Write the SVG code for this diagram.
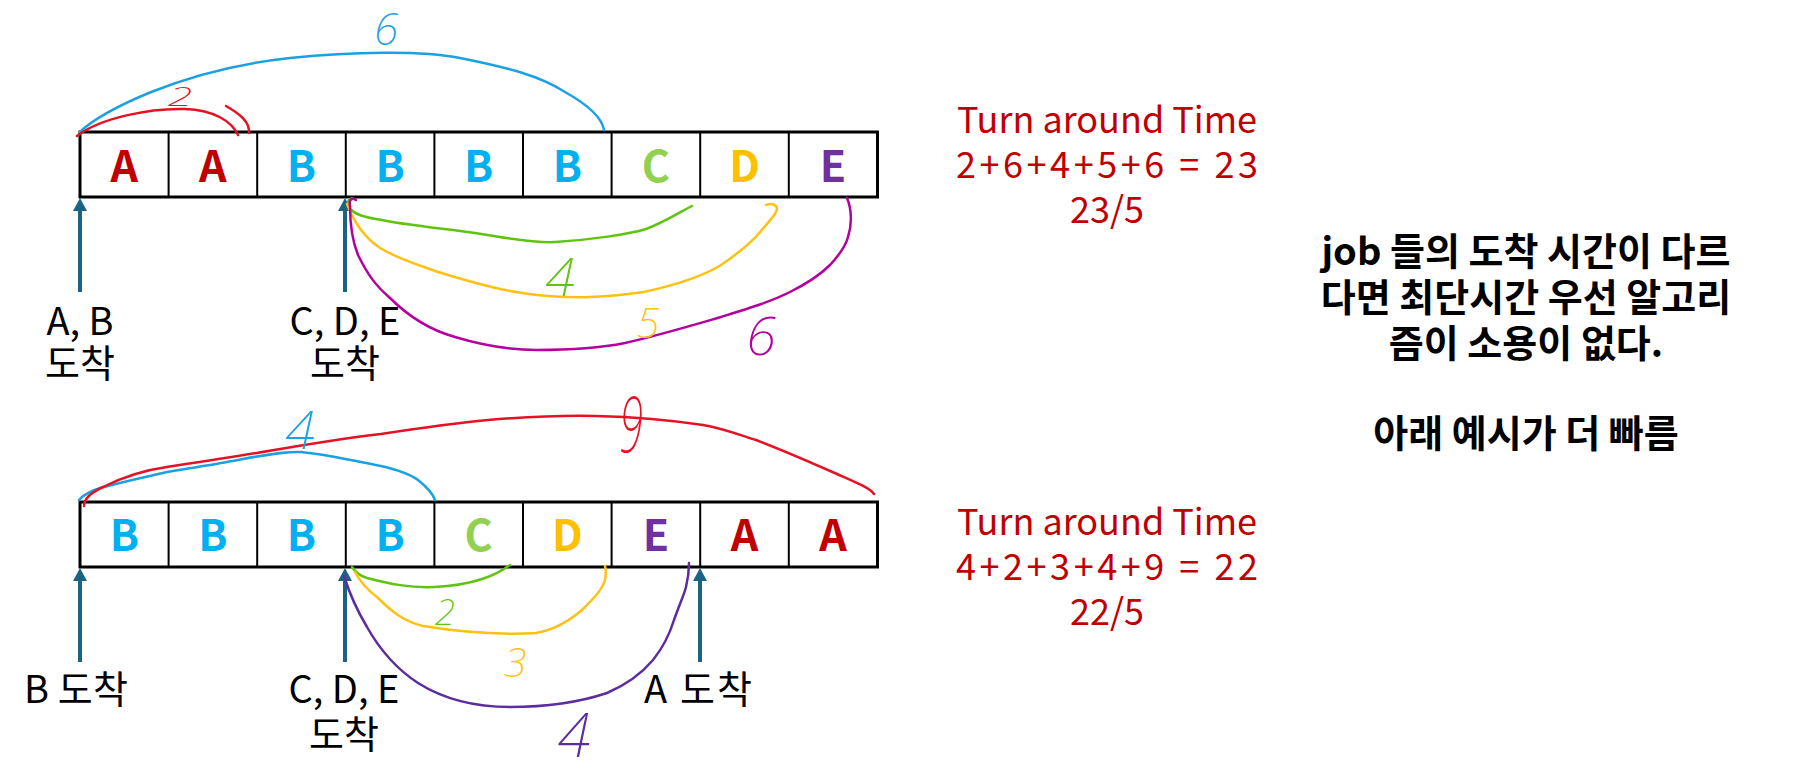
<svg xmlns="http://www.w3.org/2000/svg" width="1794" height="781" viewBox="0 0 1794 781">
<defs>
<marker id="ah" viewBox="0 0 13 14" refX="6" refY="7" markerWidth="13" markerHeight="14" markerUnits="userSpaceOnUse" orient="auto"><path d="M0,0 L13,7 L0,14 Z" fill="#1B6385"/></marker>
</defs>
<style>
text{font-family:"Noto Sans CJK KR","Noto Sans",sans-serif;}
.cell{font-size:43px;font-weight:bold;text-anchor:middle;}
.A{fill:#C00000}.B{fill:#00B0F0}.C{fill:#92D050}.D{fill:#FFC000}.E{fill:#7030A0}
.box{fill:#fff;stroke:#000;stroke-width:3}
.div{stroke:#000;stroke-width:2}
.arr{stroke:#1B6385;stroke-width:4;marker-end:url(#ah)}
.lbl{font-size:38px;fill:#000;text-anchor:middle}
.tat{font-size:36px;fill:#C00000;text-anchor:middle}
.note{font-size:38px;font-weight:bold;fill:#000;text-anchor:middle}
.hw{fill:none;stroke-width:2.5;stroke-linecap:round;stroke-linejoin:round}
.dg{font-family:"Noto Sans","DejaVu Sans",sans-serif;font-weight:200;font-style:italic;text-anchor:middle}
</style>
<rect width="1794" height="781" fill="#fff"/>

<g id="row1">
<rect class="box" x="80" y="132" width="797.5" height="65"/>
<path class="div" d="M168.6,132V197M257.2,132V197M345.8,132V197M434.4,132V197M523,132V197M611.6,132V197M700.2,132V197M788.8,132V197"/>
<text class="cell A" x="124.3" y="182">A</text>
<text class="cell A" x="212.9" y="182">A</text>
<text class="cell B" x="301.5" y="182">B</text>
<text class="cell B" x="390.1" y="182">B</text>
<text class="cell B" x="478.7" y="182">B</text>
<text class="cell B" x="567.3" y="182">B</text>
<text class="cell C" x="655.9" y="182">C</text>
<text class="cell D" x="744.5" y="182">D</text>
<text class="cell E" x="833.1" y="182">E</text>
</g>

<g id="row2">
<rect class="box" x="80" y="502" width="797.5" height="65"/>
<path class="div" d="M168.6,502V567M257.2,502V567M345.8,502V567M434.4,502V567M523,502V567M611.6,502V567M700.2,502V567M788.8,502V567"/>
<text class="cell B" x="124.3" y="551">B</text>
<text class="cell B" x="212.9" y="551">B</text>
<text class="cell B" x="301.5" y="551">B</text>
<text class="cell B" x="390.1" y="551">B</text>
<text class="cell C" x="478.7" y="551">C</text>
<text class="cell D" x="567.3" y="551">D</text>
<text class="cell E" x="655.9" y="551">E</text>
<text class="cell A" x="744.5" y="551">A</text>
<text class="cell A" x="833.1" y="551">A</text>
</g>

<g id="arrows">
<line class="arr" x1="80" y1="292" x2="80" y2="205"/>
<line class="arr" x1="345" y1="292" x2="345" y2="205"/>
<line class="arr" x1="80" y1="662" x2="80" y2="575"/>
<line class="arr" x1="345" y1="662" x2="345" y2="575"/>
<line class="arr" x1="700" y1="662" x2="700" y2="575"/>
</g>

<g id="labels">
<text class="lbl"><tspan x="80" y="335">A, B</tspan><tspan x="80" y="377">도착</tspan></text>
<text class="lbl"><tspan x="345" y="335">C, D, E</tspan><tspan x="345" y="377">도착</tspan></text>
<text class="lbl" x="76" y="703" textLength="104" lengthAdjust="spacing">B 도착</text>
<text class="lbl"><tspan x="344" y="703">C, D, E</tspan><tspan x="344" y="748">도착</tspan></text>
<text class="lbl" x="698" y="703" textLength="108" lengthAdjust="spacing">A 도착</text>
</g>

<g id="tat1">
<text class="tat"><tspan x="1107" y="133">Turn around Time</tspan><tspan x="956" y="178" text-anchor="start" textLength="302" lengthAdjust="spacing">2+6+4+5+6 = 23</tspan><tspan x="1107" y="223">23/5</tspan></text>
</g>
<g id="tat2">
<text class="tat"><tspan x="1107" y="535">Turn around Time</tspan><tspan x="956" y="580" text-anchor="start" textLength="302" lengthAdjust="spacing">4+2+3+4+9 = 22</tspan><tspan x="1107" y="625">22/5</tspan></text>
</g>

<g id="note">
<text class="note"><tspan x="1526" y="265">job 들의 도착 시간이 다르</tspan><tspan x="1526" y="311">다면 최단시간 우선 알고리</tspan><tspan x="1526" y="357">즘이 소용이 없다.</tspan><tspan x="1526" y="447">아래 예시가 더 빠름</tspan></text>
</g>

<g id="connectors">
<path class="hw" stroke="#1BA1E2" d="M80,132 C100,112 180,70 290,58 C350,52 420,50 460,58 C510,68 540,76 565,92 C590,106 602,118 604,130"/>
<path class="hw" stroke="#E81123" d="M77,136 C100,118 150,108 185,109 C215,110 232,122 238,135"/>
<path class="hw" stroke="#E81123" d="M226,106 C240,114 250,122 249,133"/>
<path class="hw" stroke="#5FC40F" d="M354,199 C348,197 346,204 350,209 C356,215 365,217 376,219 C410,226 450,229 475,233 C510,239 540,243 555,242 C590,240 630,234 646,229 C665,222 680,212 692,206"/>
<path class="hw" stroke="#FFC114" d="M347,204 C355,225 365,238 380,248 C400,260 420,265 435,271 C470,282 500,290 522,293 C550,297 570,298 591,297 C615,296 630,294 644,292 C680,284 705,275 721,265 C740,252 752,242 760,232 C772,218 780,210 776,206 C773,203 768,204 766,205"/>
<path class="hw" stroke="#B4009E" d="M356,200 C351,197 349,200 350,206 C350,225 352,240 358,255 C368,275 375,285 390,298 C410,318 430,330 455,337 C485,346 510,350 537,350 C570,350 600,348 625,343 C660,335 690,326 721,317 C750,308 770,302 790,292 C810,282 820,275 830,265 C842,252 846,245 848,237 C852,225 852,210 847,198"/>
<path class="hw" stroke="#1BA1E2" d="M79,500 C85,493 95,489 108,486 C130,480 150,476 167,472 C190,468 205,466 221,463 C250,458 280,451 301,452 C330,455 360,462 381,466 C398,470 410,474 418,480 C428,488 433,494 435,500"/>
<path class="hw" stroke="#E81123" d="M84,506 C84,498 92,492 103,487 C125,476 145,470 167,467 C200,462 240,456 274,450 C310,444 345,438 381,434 C420,428 455,423 488,420 C525,417 560,415 596,416 C635,417 670,420 703,425 C725,429 740,435 756,440 C785,451 810,462 837,474 C855,482 870,488 874,494"/>
<path class="hw" stroke="#5FC40F" d="M352,567 C356,573 360,576 367,578 C390,584 410,588 434,587 C455,586 470,583 482,579 C495,575 503,570 510,565"/>
<path class="hw" stroke="#FFC114" d="M355,572 C362,585 370,592 378,598 C392,612 405,622 423,626 C460,632 500,635 536,633 C555,630 570,620 582,610 C594,598 602,590 605,580 C606,575 606,570 605,566"/>
<path class="hw" stroke="#5B2D9F" d="M344,576 C350,595 358,612 367,627 C380,650 398,670 418,683 C445,700 475,707 510,707 C545,707 580,702 607,693 C628,684 642,673 653,660 C665,645 670,633 674,620 C680,603 684,595 686,587 C689,575 689,568 689,563"/>
</g>

<g id="digits">
<text class="dg" font-size="30" fill="#E81123" transform="translate(180,106) scale(1.5,0.85)">2</text>
<text class="dg" x="386" y="45" font-size="44" fill="#1BA1E2">6</text>
<text class="dg" x="560" y="296" font-size="54" fill="#5FC40F">4</text>
<text class="dg" x="648" y="338" font-size="42" fill="#FFC114">5</text>
<text class="dg" x="761" y="355" font-size="54" fill="#B4009E">6</text>
<text class="dg" x="300" y="449" font-size="54" fill="#1BA1E2">4</text>
<text class="dg" font-size="78" fill="#E81123" transform="translate(631,452) scale(0.55,1)">9</text>
<text class="dg" x="445" y="625" font-size="37" fill="#5FC40F">2</text>
<text class="dg" x="515" y="677" font-size="41" fill="#FFC114">3</text>
<text class="dg" x="574" y="757" font-size="60" fill="#5B2D9F">4</text>
</g>
</svg>
